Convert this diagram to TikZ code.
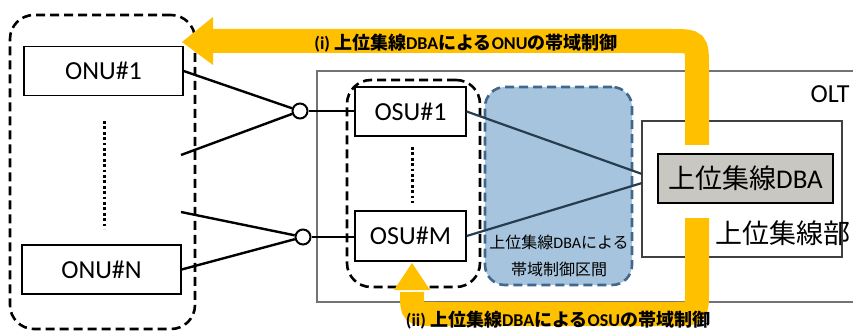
\documentclass[tikz,border=0pt]{standalone}
\usepackage{fontspec}
\setmainfont{Carlito}
\newfontfamily\jp{Noto Sans CJK JP}
\newfontfamily\jpb{Noto Sans CJK JP Bold}
\definecolor{bandor}{HTML}{FFC000}
\definecolor{zoneblue}{HTML}{A6C4DE}
\definecolor{zoneedge}{HTML}{41688C}
\definecolor{linkdark}{HTML}{263D4D}
\definecolor{dbagray}{HTML}{C9C7C1}
\begin{document}
\begin{tikzpicture}[x=1pt,y=-1pt,
  unitbox/.style={draw, line width=1.3pt, fill=white, inner sep=0pt, font=\fontsize{26}{28}\selectfont},
  grpbox/.style={draw, line width=2.6pt, dash pattern=on 9pt off 5pt, rounded corners=24pt, inner sep=0pt},
  splitter/.style={circle, draw, line width=2pt, fill=white, minimum size=15pt, inner sep=0pt},
  fiber/.style={line width=2.4pt},
  link/.style={line width=2.2pt, draw=linkdark},
  band/.style={line width=24pt, draw=bandor},
  bandhead/.style={fill=bandor},
  bandlbl/.style={font=\bfseries\fontsize{18}{19}\selectfont},
  dotline/.style={line width=3pt, dash pattern=on 2.8pt off 2.6pt}
]
\useasboundingbox (0,0) rectangle (853,331);
\clip (0,0) rectangle (853,331);

% OLT frame
\draw[line width=1.4pt, draw=black!55] (317,71) rectangle (880,302);
\node[font=\fontsize{26}{28}\selectfont] (olt) at (830,94) {OLT};

% groups
\node[grpbox, minimum width=185pt, minimum height=314pt] (onugrp) at (102.5,172) {};
\node[grpbox, minimum width=133pt, minimum height=207pt] (osugrp) at (413.5,183.5) {};
\node[grpbox, draw=zoneedge, fill=zoneblue, rounded corners=20pt, minimum width=147pt, minimum height=198pt] (zone) at (558.5,186) {};
\node[align=center, font=\jp\fontsize{16}{27}\selectfont] (zonelbl) at (559,256) {上位集線{\fontspec{Carlito}DBA}による\\帯域制御区間};

% hub
\node[draw, line width=1.4pt, draw=black!75, fill=white, minimum width=200pt, minimum height=136pt, inner sep=0pt] (hub) at (742,189) {};
\node[font=\jp\fontsize{27}{28}\selectfont] (hublbl) at (783,233) {上位集線部};
\node[draw, line width=1.5pt, fill=dbagray, minimum width=175pt, minimum height=49pt, inner sep=0pt, font=\fontsize{27}{28}\selectfont] (dba) at (745.5,178.5) {{\jp 上位集線}DBA};

% ONUs
\node[unitbox, minimum width=159pt, minimum height=49pt] (onu1) at (103.5,71) {ONU\#1};
\node[unitbox, minimum width=159pt, minimum height=49pt] (onun) at (101.5,269.5) {ONU\#N};
\draw[dotline] (104,121) -- (104,229);

% OSUs
\node[unitbox, minimum width=111pt, minimum height=49pt] (osu1) at (410.5,111.5) {OSU\#1};
\node[unitbox, minimum width=111pt, minimum height=50pt] (osum) at (410.5,236) {OSU\#M};
\draw[dotline] (412,147) -- (412,203);

% splitters
\coordinate (d1) at (181,155);
\coordinate (d2) at (181,212);
\node[splitter] (sp1) at (300,111) {};
\node[splitter] (sp2) at (303,237) {};
\draw[fiber] (onu1.east) -- (sp1);
\draw[fiber] (d1) -- (sp1);
\draw[fiber] (d2) -- (sp2);
\draw[fiber] (onun.east) -- (sp2);
\draw[fiber] (sp1) -- (sp1 -| osu1.west);
\draw[fiber] (sp2) -- (sp2 -| osum.west);

% links to hub
\coordinate (h1) at (642,174);
\coordinate (h2) at (642,183);
\draw[link] (osu1.east) -- (h1);
\draw[link] (osum.east) -- (h2);

% band (i)
\coordinate (a1s) at (697,145);
\coordinate (a1t) at (182,42);
\draw[band] (a1s) -- (697,68) .. controls (697,41) .. (670,41) -- (210,41);
\fill[bandhead] (213,17) -- (a1t) -- (213,65) -- cycle;
\node[bandlbl] (lbl1) at (466,43) {(i) {\jpb 上位集線}DBA{\jpb による}ONU{\jpb の帯域制御}};

% band (ii)
\coordinate (a2s) at (697,218);
\coordinate (a2t) at (412,263);
\draw[band] (a2s) -- (697,290) .. controls (697,314) .. (673,314) -- (436,314) .. controls (412,314) .. (412,292);
\fill[bandhead] (394,290) -- (a2t) -- (430,290) -- cycle;
\node[bandlbl] (lbl2) at (558,320) {(ii) {\jpb 上位集線}DBA{\jpb による}OSU{\jpb の帯域制御}};
\end{tikzpicture}
\end{document}
